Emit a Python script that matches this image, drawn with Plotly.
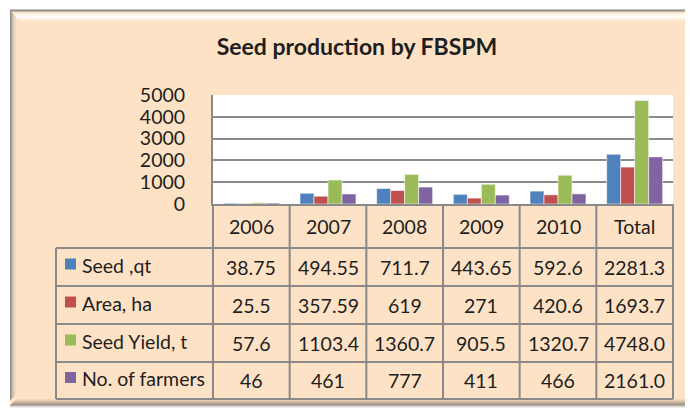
import plotly.graph_objects as go

# ---------------- data ----------------
categories = ["2006", "2007", "2008", "2009", "2010", "Total"]
series_names = ["Seed ,qt", "Area, ha", "Seed Yield, t", "No. of farmers"]
seed_qt = [38.75, 494.55, 711.7, 443.65, 592.6, 2281.3]
area_ha = [25.5, 357.59, 619, 271, 420.6, 1693.7]
seed_yield_t = [57.6, 1103.4, 1360.7, 905.5, 1320.7, 4748.0]
no_of_farmers = [46, 461, 777, 411, 466, 2161.0]
y_tick_values = [0, 1000, 2000, 3000, 4000, 5000]
title_text = "Seed production by FBSPM"

series_values = [seed_qt, area_ha, seed_yield_t, no_of_farmers]
colors = ["#4F81BD", "#C0504D", "#9BBB59", "#8064A2"]

# ---------------- layout geometry (pixels, in window coordinates) ----------------
OFF = 8                      # browser body margin
WIN_W, WIN_H = 693, 408
W, H = WIN_W - OFF, WIN_H - OFF
L, R, T, B = 213, 673, 95, 204
FONT = "Lato, 'Open Sans', Arial, sans-serif"
TXT = "#1e1e1e"
GRID = "#8a8a8a"
PEACH = "#FDE2C5"


def px2x(px):
    return (px - L) / (R - L)


def py2y(py):
    return (B - py) / (B - T)


header_bottom = 248
row_bounds = [248, 286, 324, 362, 399]
label_left = 56
TS = 19.5

fig = go.Figure()
for name, vals, col in zip(series_names, series_values, colors):
    fig.add_trace(go.Bar(
        x=categories, y=vals, name=name,
        marker=dict(color=col, line=dict(color="rgba(255,255,255,0.55)", width=1)),
        showlegend=False,
    ))

shapes = []
# panel background with bevel
shapes.append(dict(type="rect", xref="paper", yref="paper", x0=px2x(10), x1=px2x(700),
                   y0=py2y(410), y1=py2y(10), fillcolor=PEACH, line=dict(width=0), layer="below"))
# top highlight gradient
for i, op in enumerate([0.35, 0.6, 0.85, 0.95, 0.85, 0.6, 0.4, 0.2, 0.1]):
    shapes.append(dict(type="rect", xref="paper", yref="paper", x0=px2x(12 + i), x1=px2x(700),
                       y0=py2y(13 + i + 1), y1=py2y(13 + i), fillcolor="white", opacity=op,
                       line=dict(width=0), layer="below"))
# left shadow gradient
for i, c in enumerate(["#8f8f8f", "#a8a39e", "#c7b8a8", "#dccab4", "#ead6bf", "#f3dcc2"]):
    shapes.append(dict(type="rect", xref="paper", yref="paper", x0=px2x(10 + i), x1=px2x(11 + i),
                       y0=py2y(400 - i), y1=py2y(11 + i), fillcolor=c, line=dict(width=0), layer="below"))
# bottom shadow gradient
for i, c in enumerate(["#f1d8bc", "#e6cdb2", "#d8bfa5", "#c8b09a", "#b6a291", "#a39689", "#b5aca4", "#d8d4d0", "#eeeeee"]):
    shapes.append(dict(type="rect", xref="paper", yref="paper", x0=px2x(10 + 6 - min(i, 6)), x1=px2x(700),
                       y0=py2y(399 + i + 1), y1=py2y(399 + i), fillcolor=c, line=dict(width=0), layer="below"))
# right shadow
for i, c in enumerate(["#f5dcc0", "#ecd3b8", "#e2cab0"]):
    shapes.append(dict(type="rect", xref="paper", yref="paper", x0=px2x(690 + i), x1=px2x(691 + i),
                       y0=py2y(400), y1=py2y(20), fillcolor=c, line=dict(width=0), layer="below"))
# top border line
shapes.append(dict(type="line", xref="paper", yref="paper", x0=px2x(10), x1=px2x(700),
                   y0=py2y(10.5), y1=py2y(10.5), line=dict(color="#8c8c8c", width=2), layer="below"))
# plot area white
shapes.append(dict(type="rect", xref="paper", yref="paper", x0=0, x1=1, y0=0, y1=1,
                   fillcolor="white", line=dict(width=0), layer="below"))

line_style = dict(color=GRID, width=2)
# table horizontal lines
for rb in row_bounds:
    shapes.append(dict(type="line", xref="paper", yref="paper", x0=px2x(label_left), x1=1,
                       y0=py2y(rb), y1=py2y(rb), line=line_style))
# table vertical lines
shapes.append(dict(type="line", xref="paper", yref="paper", x0=px2x(label_left), x1=px2x(label_left),
                   y0=py2y(row_bounds[0]), y1=py2y(row_bounds[-1]), line=line_style))
for xe in (0, 1):
    shapes.append(dict(type="line", xref="paper", yref="paper", x0=xe, x1=xe,
                       y0=py2y(B), y1=py2y(row_bounds[-1]), line=line_style))
for i in range(len(categories) - 1):
    shapes.append(dict(type="line", xref="x", yref="paper", x0=i + 0.5, x1=i + 0.5,
                       y0=py2y(B), y1=py2y(row_bounds[-1]), line=line_style))

annotations = []
# header row
for i, c in enumerate(categories):
    annotations.append(dict(x=i, xref="x", yref="paper", y=py2y((B + header_bottom) / 2),
                            text=c, showarrow=False, font=dict(family=FONT, size=TS, color=TXT),
                            xanchor="center", yanchor="middle"))
# data rows
for r, (name, vals, col) in enumerate(zip(series_names, series_values, colors)):
    yc = (row_bounds[r] + row_bounds[r + 1]) / 2
    for j, (c, v) in enumerate(zip(categories, vals)):
        s = f"{v:.1f}" if c == "Total" else f"{v:g}"
        annotations.append(dict(x=j, xref="x", yref="paper", y=py2y(yc), text=s, showarrow=False,
                                font=dict(family=FONT, size=TS, color=TXT),
                                xanchor="center", yanchor="middle"))
    shapes.append(dict(type="rect", xref="paper", yref="paper", x0=px2x(65), x1=px2x(76),
                       y0=py2y(yc + 2.5), y1=py2y(yc - 8.5), fillcolor=col, line=dict(width=0)))
    annotations.append(dict(x=px2x(80), xref="paper", yref="paper", y=py2y(yc - 2), text=name,
                            showarrow=False, font=dict(family=FONT, size=TS, color=TXT),
                            xanchor="left", yanchor="middle"))

fig.update_layout(
    width=W, height=H,
    margin=dict(l=L - OFF, r=WIN_W - R, t=T - OFF, b=WIN_H - B),
    paper_bgcolor="white", plot_bgcolor="rgba(0,0,0,0)",
    barmode="group", bargap=0.27, bargroupgap=0,
    title=dict(text=f"<b>{title_text}</b>", xref="container", x=(357 - OFF) / W, xanchor="center",
               yref="container", y=1 - (47 - OFF) / H, yanchor="middle",
               font=dict(family=FONT, size=23, color=TXT)),
    xaxis=dict(type="category", showticklabels=False, showgrid=False, showline=True,
               linecolor=GRID, linewidth=2, ticks="", range=[-0.5, len(categories) - 0.5]),
    yaxis=dict(range=[0, 5000], tickvals=y_tick_values, showgrid=True, gridcolor=GRID, gridwidth=2,
               zeroline=False, showline=True, linecolor=GRID, linewidth=2, ticks="",
               ticklabelstandoff=22, tickfont=dict(family=FONT, size=TS, color=TXT)),
    shapes=shapes, annotations=annotations,
)

fig.write_html("out.html")
